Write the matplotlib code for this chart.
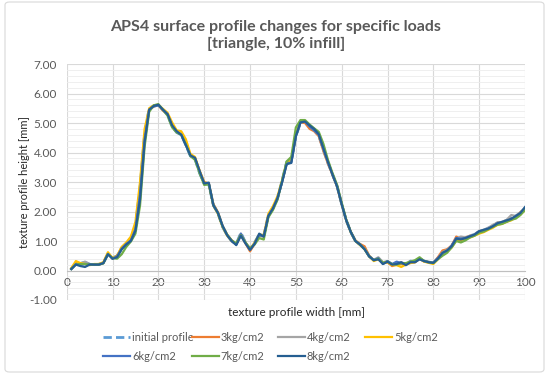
import matplotlib
matplotlib.use("Agg")
import matplotlib.pyplot as plt
from matplotlib.patches import FancyBboxPatch

plt.rcParams['font.family'] = ['Lato', 'DejaVu Sans']

x_mm = list(range(1, 101))

initial_profile = [
    0.05, 0.24, 0.24, 0.28, 0.21, 0.20, 0.21, 0.26, 0.56, 0.42,
    0.50, 0.76, 0.92, 1.08, 1.50, 2.80, 4.60, 5.50, 5.58, 5.60,
    5.45, 5.28, 4.88, 4.68, 4.60, 4.25, 3.88, 3.78, 3.30, 2.95,
    2.92, 2.22, 1.95, 1.48, 1.20, 1.00, 0.90, 1.28, 0.95, 0.72,
    0.95, 1.22, 1.18, 1.88, 2.10, 2.45, 3.05, 3.68, 3.72, 4.55,
    5.00, 5.05, 4.88, 4.75, 4.58, 4.10, 3.65, 3.25, 2.85, 2.25,
    1.70, 1.30, 1.00, 0.88, 0.76, 0.48, 0.36, 0.40, 0.28, 0.30,
    0.20, 0.22, 0.25, 0.22, 0.32, 0.30, 0.40, 0.32, 0.28, 0.26,
    0.42, 0.62, 0.70, 0.82, 1.08, 1.08, 1.10, 1.18, 1.22, 1.33,
    1.36, 1.44, 1.50, 1.62, 1.63, 1.70, 1.78, 1.85, 1.95, 2.10]

load_3kg = [
    0.06, 0.26, 0.22, 0.25, 0.20, 0.19, 0.20, 0.27, 0.57, 0.40,
    0.50, 0.78, 0.92, 1.10, 1.50, 2.75, 4.55, 5.45, 5.56, 5.60,
    5.42, 5.30, 4.95, 4.72, 4.62, 4.35, 3.92, 3.80, 3.38, 3.00,
    2.95, 2.25, 1.98, 1.52, 1.22, 1.02, 0.90, 1.22, 0.92, 0.65,
    0.90, 1.18, 1.15, 1.85, 2.10, 2.45, 3.02, 3.65, 3.72, 4.60,
    5.02, 5.00, 4.80, 4.72, 4.55, 4.05, 3.62, 3.25, 2.85, 2.25,
    1.70, 1.30, 1.02, 0.90, 0.82, 0.50, 0.35, 0.38, 0.25, 0.28,
    0.15, 0.20, 0.22, 0.20, 0.28, 0.28, 0.40, 0.30, 0.28, 0.25,
    0.45, 0.68, 0.72, 0.85, 1.15, 1.08, 1.12, 1.18, 1.20, 1.32,
    1.35, 1.42, 1.52, 1.62, 1.62, 1.68, 1.75, 1.82, 1.98, 2.10]

load_4kg = [
    0.06, 0.22, 0.24, 0.30, 0.22, 0.20, 0.20, 0.25, 0.58, 0.42,
    0.48, 0.74, 0.92, 1.05, 1.45, 2.70, 4.55, 5.48, 5.58, 5.60,
    5.45, 5.30, 4.90, 4.70, 4.62, 4.28, 3.90, 3.80, 3.35, 2.95,
    2.95, 2.20, 1.95, 1.50, 1.20, 1.00, 0.88, 1.25, 0.95, 0.72,
    0.92, 1.20, 1.18, 1.85, 2.10, 2.45, 3.00, 3.62, 3.70, 4.55,
    5.02, 5.05, 4.90, 4.75, 4.60, 4.12, 3.66, 3.25, 2.85, 2.25,
    1.70, 1.30, 1.00, 0.88, 0.74, 0.48, 0.36, 0.45, 0.28, 0.32,
    0.20, 0.22, 0.28, 0.22, 0.32, 0.32, 0.40, 0.32, 0.30, 0.26,
    0.40, 0.62, 0.70, 0.82, 1.08, 1.15, 1.12, 1.18, 1.22, 1.35,
    1.38, 1.45, 1.55, 1.62, 1.65, 1.72, 1.88, 1.85, 1.98, 2.12]

load_5kg = [
    0.08, 0.32, 0.25, 0.22, 0.18, 0.22, 0.22, 0.28, 0.62, 0.42,
    0.50, 0.80, 0.95, 1.15, 1.65, 3.00, 4.80, 5.50, 5.60, 5.62,
    5.48, 5.35, 5.02, 4.75, 4.72, 4.45, 3.95, 3.85, 3.38, 2.98,
    2.95, 2.20, 1.92, 1.48, 1.18, 1.00, 0.90, 1.22, 0.95, 0.72,
    0.95, 1.22, 1.20, 1.92, 2.18, 2.52, 3.05, 3.65, 3.72, 4.60,
    5.05, 5.05, 4.92, 4.80, 4.62, 4.15, 3.70, 3.25, 2.85, 2.25,
    1.70, 1.30, 1.00, 0.86, 0.72, 0.48, 0.32, 0.38, 0.25, 0.28,
    0.18, 0.18, 0.12, 0.20, 0.25, 0.28, 0.40, 0.30, 0.26, 0.22,
    0.38, 0.55, 0.65, 0.78, 1.02, 1.00, 1.08, 1.12, 1.18, 1.25,
    1.30, 1.38, 1.45, 1.55, 1.58, 1.65, 1.70, 1.80, 1.90, 2.05]

load_6kg = [
    0.05, 0.22, 0.20, 0.22, 0.22, 0.20, 0.20, 0.25, 0.56, 0.40,
    0.48, 0.74, 0.90, 1.02, 1.40, 2.60, 4.45, 5.45, 5.56, 5.60,
    5.45, 5.30, 4.90, 4.70, 4.60, 4.25, 3.88, 3.80, 3.32, 2.95,
    2.95, 2.20, 1.95, 1.50, 1.20, 1.00, 0.88, 1.25, 0.95, 0.70,
    0.92, 1.20, 1.15, 1.85, 2.10, 2.45, 3.00, 3.65, 3.65, 4.55,
    5.02, 5.05, 4.88, 4.75, 4.60, 4.12, 3.68, 3.25, 2.85, 2.25,
    1.70, 1.30, 1.00, 0.88, 0.72, 0.48, 0.35, 0.42, 0.22, 0.32,
    0.22, 0.30, 0.25, 0.22, 0.30, 0.30, 0.40, 0.32, 0.28, 0.26,
    0.42, 0.58, 0.65, 0.85, 1.10, 1.08, 1.10, 1.16, 1.20, 1.33,
    1.35, 1.42, 1.50, 1.60, 1.62, 1.66, 1.75, 1.82, 1.92, 2.12]

load_7kg = [
    0.05, 0.20, 0.22, 0.22, 0.20, 0.20, 0.20, 0.24, 0.55, 0.42,
    0.40, 0.55, 0.80, 0.98, 1.25, 2.20, 4.20, 5.38, 5.60, 5.64,
    5.45, 5.25, 4.85, 4.68, 4.60, 4.28, 3.88, 3.75, 3.30, 2.90,
    2.92, 2.22, 1.95, 1.50, 1.22, 1.02, 0.92, 1.20, 0.95, 0.75,
    0.88, 1.10, 1.05, 1.80, 2.05, 2.40, 3.05, 3.70, 3.85, 4.85,
    5.10, 5.10, 4.95, 4.82, 4.70, 4.30, 3.75, 3.30, 2.90, 2.30,
    1.72, 1.30, 1.00, 0.88, 0.72, 0.48, 0.35, 0.40, 0.26, 0.30,
    0.22, 0.20, 0.25, 0.25, 0.30, 0.35, 0.45, 0.32, 0.28, 0.25,
    0.38, 0.50, 0.60, 0.78, 1.00, 0.95, 1.02, 1.12, 1.18, 1.28,
    1.32, 1.40, 1.48, 1.55, 1.58, 1.65, 1.72, 1.76, 1.88, 2.05]

load_8kg = [
    0.05, 0.20, 0.15, 0.12, 0.20, 0.20, 0.20, 0.25, 0.55, 0.40,
    0.45, 0.72, 0.88, 1.00, 1.35, 2.40, 4.35, 5.45, 5.58, 5.62,
    5.45, 5.30, 4.92, 4.72, 4.60, 4.25, 3.90, 3.82, 3.38, 2.95,
    2.98, 2.22, 1.95, 1.52, 1.20, 1.00, 0.86, 1.18, 0.92, 0.70,
    0.90, 1.25, 1.15, 1.85, 2.10, 2.45, 3.00, 3.60, 3.65, 4.55,
    5.02, 5.05, 4.92, 4.80, 4.62, 4.15, 3.68, 3.25, 2.85, 2.25,
    1.70, 1.30, 1.00, 0.88, 0.72, 0.48, 0.35, 0.38, 0.22, 0.30,
    0.20, 0.22, 0.28, 0.18, 0.28, 0.28, 0.38, 0.32, 0.28, 0.26,
    0.40, 0.60, 0.68, 0.82, 1.08, 1.05, 1.10, 1.16, 1.22, 1.33,
    1.38, 1.42, 1.50, 1.60, 1.65, 1.70, 1.75, 1.85, 1.95, 2.15]

series_labels = ['initial profile', '3kg/cm2', '4kg/cm2', '5kg/cm2',
                 '6kg/cm2', '7kg/cm2', '8kg/cm2']
series_values = [initial_profile, load_3kg, load_4kg, load_5kg,
                 load_6kg, load_7kg, load_8kg]
series_colors = ['#5B9BD5', '#ED7D31', '#A5A5A5', '#FFC000',
                 '#4472C4', '#70AD47', '#255E91']

x_ticks = [0, 10, 20, 30, 40, 50, 60, 70, 80, 90, 100]
y_ticks = [-1, 0, 1, 2, 3, 4, 5, 6, 7]
y_tick_labels = ['-1.00', '0.00', '1.00', '2.00', '3.00', '4.00', '5.00', '6.00', '7.00']

title_text = 'APS4 surface profile changes for specific loads\n[triangle, 10% infill]'
xlabel_text = 'texture profile width [mm]'
ylabel_text = 'texture profile height [mm]'

W, H = 550, 375
fig = plt.figure(figsize=(W / 100, H / 100), dpi=100)
fig.patch.set_facecolor('white')

# chart border
border = FancyBboxPatch((5 / W, 3 / H), 539 / W, 370 / H,
                        boxstyle='round,pad=0,rounding_size=0.008',
                        transform=fig.transFigure, facecolor='none',
                        edgecolor='#D9D9D9', linewidth=0.8, zorder=-1)
fig.add_artist(border)

ax = fig.add_axes([66.7 / W, 1 - 300 / H, (525 - 66.7) / W, (300 - 64) / H])
ax.set_facecolor('none')
ax.set_xlim(0, 100)
ax.set_ylim(-1, 7)

txt_col = '#595959'
lines = []
for vals, lab, col in zip(series_values, series_labels, series_colors):
    if lab == 'initial profile':
        ln, = ax.plot(x_mm, vals, color=col, lw=2.0, ls=(0, (3, 1.5)),
                      label=lab, zorder=3)
    else:
        ln, = ax.plot(x_mm, vals, color=col, lw=1.6, label=lab,
                      solid_joinstyle='round', zorder=3)
    lines.append(ln)

# grid
ax.set_xticks(x_ticks)
ax.set_yticks(y_ticks)
ax.set_yticks([v / 5 for v in range(-5, 35)], minor=True)
ax.grid(which='major', axis='both', color='#D9D9D9', lw=0.8, zorder=0)
ax.grid(which='minor', axis='y', color='#EDEDED', lw=0.6, zorder=0)
ax.set_axisbelow(True)
for s in ['top', 'right', 'left']:
    ax.spines[s].set_visible(False)
ax.spines['bottom'].set_position(('data', 0))
ax.spines['bottom'].set_color('#BFBFBF')
ax.spines['bottom'].set_linewidth(0.8)
ax.tick_params(axis='both', which='both', length=0, labelsize=8.5,
               labelcolor=txt_col)
ax.tick_params(axis='x', pad=5)
ax.tick_params(axis='y', pad=7)
ax.set_yticklabels(y_tick_labels)
ax.set_xticklabels([str(v) for v in x_ticks])

fig.text(276 / W, 1 - 20 / H, title_text, ha='center', va='top',
         fontsize=11.5, fontweight='bold', color=txt_col, linespacing=1.3)
fig.text(296 / W, 1 - 312 / H, xlabel_text, ha='center', va='center',
         fontsize=8.5, color='#262626')
fig.text(24 / W, 1 - 182 / H, ylabel_text, ha='center', va='center',
         rotation=90, fontsize=8, color='#262626')

# legend: four columns positioned like the original
col_x = [103, 192, 278, 365]
col_items = [[0, 4], [1, 5], [2, 6], [3]]
for cx, items in zip(col_x, col_items):
    fig.legend([lines[i] for i in items], [series_labels[i] for i in items],
               loc='upper left', bbox_to_anchor=(cx / W, 1 - 332 / H),
               frameon=False, fontsize=8, handlelength=2.4,
               handletextpad=0.2, borderpad=0, borderaxespad=0,
               labelspacing=0.75, labelcolor=txt_col)

fig.savefig('out.png', dpi=100, facecolor='white')
